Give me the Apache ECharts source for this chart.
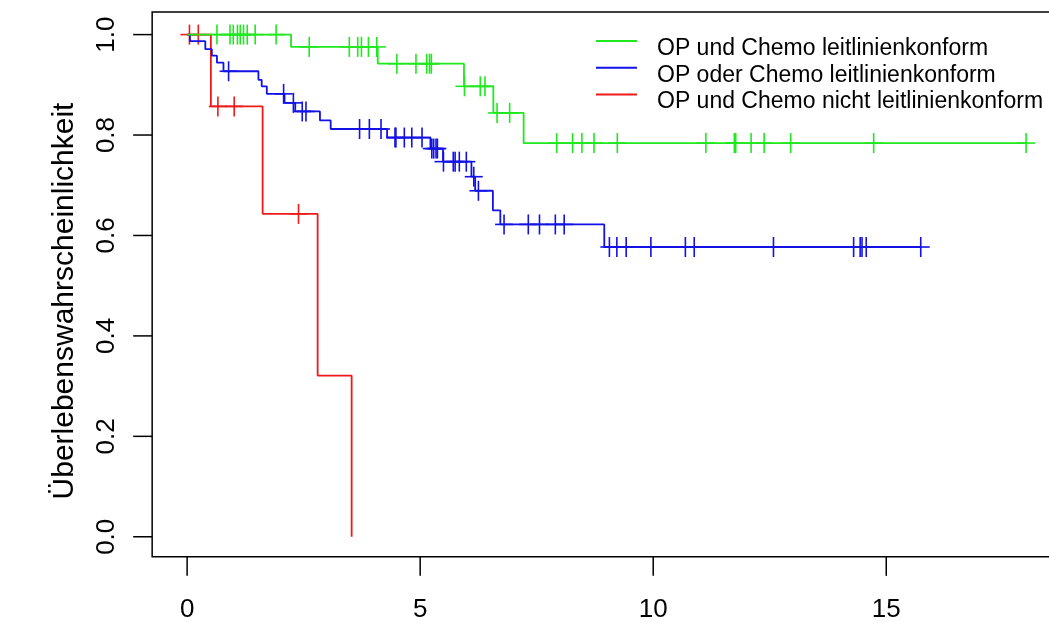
<!DOCTYPE html>
<html>
<head>
<meta charset="utf-8">
<script src="https://cdn.jsdelivr.net/npm/echarts@6/dist/echarts.min.js"></script>
<style>
  html, body { margin: 0; padding: 0; background: #fff; }
  #chart { width: 1049px; height: 628px; }
</style>
</head>
<body>
<div id="chart"></div>
<script>
// Kaplan-Meier estimates: event times and survival after each step
const groupNames = [
  'OP und Chemo leitlinienkonform',
  'OP oder Chemo leitlinienkonform',
  'OP und Chemo nicht leitlinienkonform'
];

const greenTimes = [0, 2.23, 4.09, 5.94, 6.57, 7.22];
const greenSurv  = [1, 0.9755, 0.942, 0.897, 0.844, 0.784];
const greenCensor = [0.64, 0.92, 0.99, 1.08, 1.14, 1.21, 1.29, 1.46, 1.91,
  2.62, 3.48, 3.66, 3.74, 3.89, 4.07, 4.50, 4.91, 5.14, 5.20, 5.24,
  5.95, 6.29, 6.39, 6.65, 6.92, 7.93, 8.27, 8.47, 8.73, 9.23, 11.13,
  11.74, 11.77, 12.10, 12.38, 12.95, 14.73, 18.0];
const greenEnd = 18.0;

const blueTimes = [0, 0.06, 0.39, 0.53, 0.64, 0.78, 1.53, 1.60, 1.71, 2.09,
  2.32, 2.85, 3.08, 4.29, 5.22, 5.49, 6.10, 6.18, 6.56, 6.72, 8.95];
const blueSurv  = [1, 0.987, 0.971, 0.958, 0.944, 0.927, 0.910, 0.897, 0.882, 0.864,
  0.847, 0.829, 0.812, 0.795, 0.773, 0.747, 0.717, 0.689, 0.650, 0.622, 0.577];
const blueCensor = [0.89, 2.07, 2.28, 2.47, 2.55, 3.70, 3.91, 4.16, 4.46, 4.48,
  4.66, 4.82, 5.04, 5.25, 5.29, 5.34, 5.37, 5.50, 5.71, 5.75, 5.84, 5.99,
  6.15, 6.25, 6.80, 7.32, 7.56, 7.90, 8.09, 9.06, 9.22, 9.42, 9.95, 10.69,
  10.88, 12.58, 14.30, 14.44, 14.48, 14.57, 15.74];
const blueEnd = 15.74;

const redTimes = [0, 0.51, 1.62, 2.80, 3.53];
const redSurv  = [1, 0.857, 0.643, 0.321, 0];
const redCensor = [0.05, 0.24, 0.66, 1.01, 2.39];
const redEnd = 3.53;

const xTicks = [0, 5, 10, 15];
const yTicks = [0, 0.2, 0.4, 0.6, 0.8, 1.0];

// plot frame (R-style 4 % padding around the data); the coordinate area is a bit
// larger so the outward tick marks still fall inside it
const frameXMin = -0.75, frameXMax = 19.5;
const frameYMin = -0.04, frameYMax = 1.045;
const xMin = -1.44, xMax = 19.5;
const yMin = -0.106, yMax = 1.045;

const colors = ['#1fe81f', '#1212e6', '#ee1a1a'];
const FONT = '"Liberation Sans", Arial, Helvetica, sans-serif';
const TICK_LEN = 19;

function stepData(times, surv, end) {
  const pts = times.map((t, i) => [t, surv[i]]);
  if (end > times[times.length - 1]) pts.push([end, surv[surv.length - 1]]);
  return pts;
}
function survAt(times, surv, t) {
  let s = surv[0];
  for (let i = 0; i < times.length; i++) if (times[i] <= t) s = surv[i];
  return s;
}
function censorData(times, surv, cens) {
  return cens.map(t => [t, survAt(times, surv, t)]);
}

// "+" censoring marks
function plusMark(color) {
  return function (params, api) {
    const p = api.coord([api.value(0), api.value(1)]);
    const st = { stroke: color, lineWidth: 1.6 };
    return {
      type: 'group',
      children: [
        { type: 'line', shape: { x1: p[0] - 9, y1: p[1], x2: p[0] + 9, y2: p[1] }, style: st },
        { type: 'line', shape: { x1: p[0], y1: p[1] - 10, x2: p[0], y2: p[1] + 10 }, style: st }
      ]
    };
  };
}

// frame rectangle and outward ticks
function frameRect(params, api) {
  const a = api.coord([api.value(0), api.value(3)]);
  const b = api.coord([api.value(2), api.value(1)]);
  return {
    type: 'rect', silent: true,
    shape: { x: a[0], y: a[1], width: b[0] - a[0], height: b[1] - a[1] },
    style: { fill: 'transparent', stroke: '#000', lineWidth: 1.5 }
  };
}
function xTickMark(params, api) {
  const p = api.coord([api.value(0), api.value(1)]);
  return { type: 'line', silent: true,
    shape: { x1: p[0], y1: p[1], x2: p[0], y2: p[1] + TICK_LEN },
    style: { stroke: '#000', lineWidth: 1.5 } };
}
function yTickMark(params, api) {
  const p = api.coord([api.value(0), api.value(1)]);
  return { type: 'line', silent: true,
    shape: { x1: p[0] - TICK_LEN, y1: p[1], x2: p[0], y2: p[1] },
    style: { stroke: '#000', lineWidth: 1.5 } };
}

const groups = [
  { name: groupNames[2], color: colors[2], times: redTimes, surv: redSurv, cens: redCensor, end: redEnd },
  { name: groupNames[1], color: colors[1], times: blueTimes, surv: blueSurv, cens: blueCensor, end: blueEnd },
  { name: groupNames[0], color: colors[0], times: greenTimes, surv: greenSurv, cens: greenCensor, end: greenEnd }
];

const series = [];
series.push({
  type: 'custom', silent: true, clip: false,
  renderItem: frameRect, encode: { x: [0, 2], y: [1, 3] },
  data: [[frameXMin, frameYMin, frameXMax, frameYMax]], animation: false
});
series.push({
  type: 'custom', silent: true, clip: false,
  renderItem: xTickMark, encode: { x: 0, y: 1 },
  data: xTicks.map(v => [v, frameYMin]), animation: false
});
series.push({
  type: 'custom', silent: true, clip: false,
  renderItem: yTickMark, encode: { x: 0, y: 1 },
  data: yTicks.map(v => [frameXMin, v]), animation: false
});
groups.forEach(g => {
  series.push({
    name: g.name,
    type: 'line',
    step: 'end',
    showSymbol: false,
    color: g.color,
    lineStyle: { color: g.color, width: 1.8 },
    data: stepData(g.times, g.surv, g.end),
    animation: false
  });
  series.push({
    name: g.name,
    type: 'custom',
    renderItem: plusMark(g.color),
    encode: { x: 0, y: 1 },
    data: censorData(g.times, g.surv, g.cens),
    animation: false
  });
});

// legend key: a short line sitting above the text middle
const legendIcon = 'path://M0,0H41V2H0Z M0,17h0.01v0.01h-0.01Z';

const chart = echarts.init(document.getElementById('chart'), null, { renderer: 'canvas' });
chart.setOption({
  backgroundColor: '#ffffff',
  animation: false,
  grid: {
    left: 120, top: 12, width: 976, height: 578,
    outerBoundsMode: 'none',
    show: false
  },
  legend: {
    orient: 'vertical',
    left: 596, top: 37,
    padding: 0,
    itemWidth: 41, itemHeight: 17,
    itemGap: 3.7,
    icon: legendIcon,
    data: [groupNames[0], groupNames[1], groupNames[2]],
    textStyle: {
      fontFamily: FONT, fontSize: 23, color: '#000',
      lineHeight: 23, padding: [0, 0, 0, 15]
    }
  },
  xAxis: {
    type: 'value',
    min: xMin, max: xMax,
    axisLine: { show: false, onZero: false },
    splitLine: { show: false },
    axisTick: { show: false },
    axisLabel: {
      customValues: xTicks, fontFamily: FONT, fontSize: 26, color: '#000', margin: 7
    }
  },
  yAxis: {
    type: 'value',
    min: yMin, max: yMax,
    name: 'Überlebenswahrscheinlichkeit',
    nameLocation: 'middle',
    nameRotate: 90,
    nameGap: 40,
    nameTextStyle: { fontFamily: FONT, fontSize: 30, color: '#000' },
    axisLine: { show: false, onZero: false },
    splitLine: { show: false },
    axisTick: { show: false },
    axisLabel: {
      customValues: yTicks, rotate: 90, fontFamily: FONT, fontSize: 26, color: '#000',
      margin: 0,
      formatter: v => v.toFixed(1)
    }
  },
  series: series
});
</script>
</body>
</html>
